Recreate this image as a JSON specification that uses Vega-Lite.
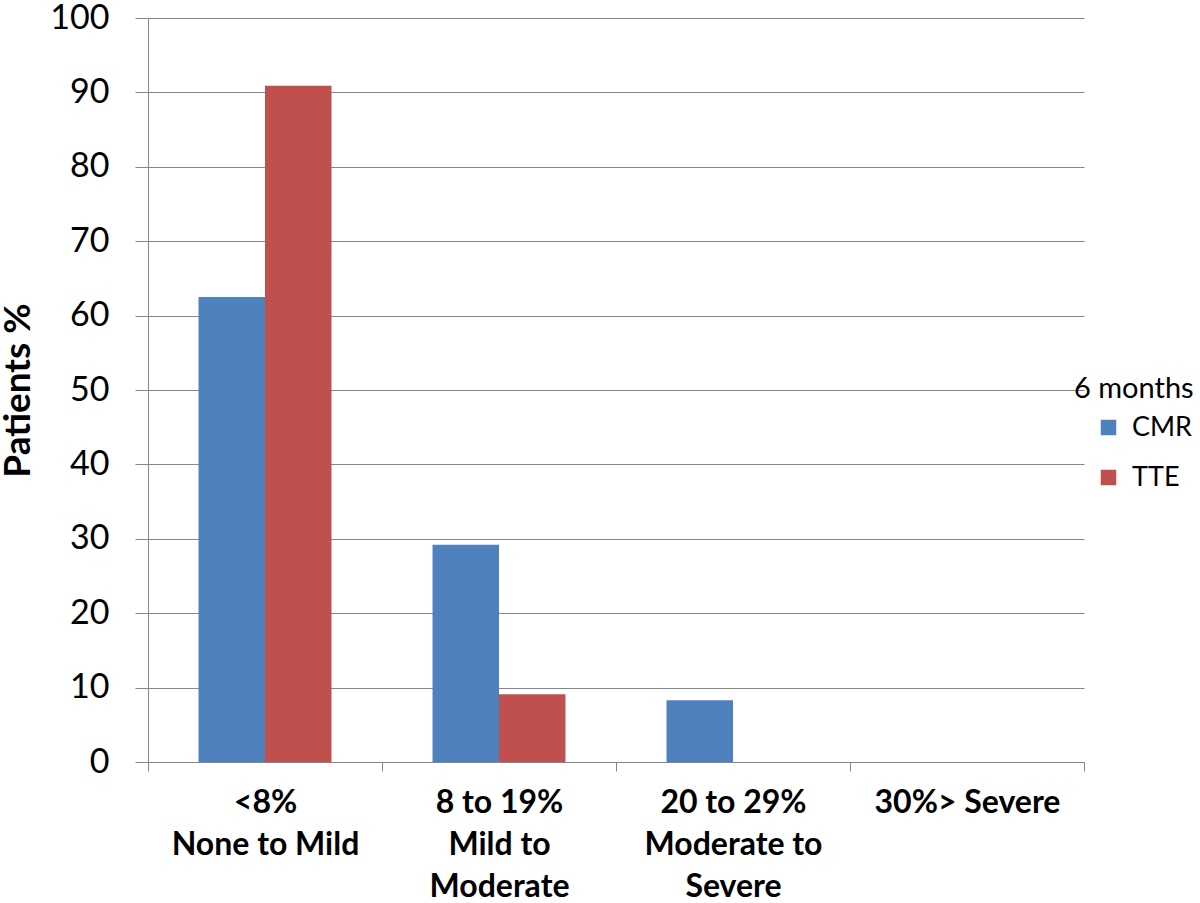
{
  "$schema": "https://vega.github.io/schema/vega-lite/v6.json",
  "width": 936,
  "height": 744,
  "autosize": {"type": "none"},
  "padding": {"left": 148, "top": 18, "right": 116, "bottom": 141},
  "background": "white",
  "data": {
    "values": [
      {"category": "<8%|None to Mild", "series": "CMR", "value": 62.5},
      {"category": "<8%|None to Mild", "series": "TTE", "value": 90.9},
      {"category": "8 to 19%|Mild to|Moderate", "series": "CMR", "value": 29.2},
      {"category": "8 to 19%|Mild to|Moderate", "series": "TTE", "value": 9.1},
      {"category": "20 to 29%|Moderate to|Severe", "series": "CMR", "value": 8.3},
      {"category": "20 to 29%|Moderate to|Severe", "series": "TTE", "value": 0},
      {"category": "30%> Severe", "series": "CMR", "value": 0},
      {"category": "30%> Severe", "series": "TTE", "value": 0}
    ]
  },
  "mark": {"type": "bar"},
  "encoding": {
    "x": {
      "field": "category",
      "type": "nominal",
      "sort": null,
      "scale": {"paddingInner": 0, "paddingOuter": 0},
      "axis": {
        "title": null,
        "labelAngle": 0,
        "labelExpr": "split(datum.label, '|')",
        "labelFont": "Lato",
        "labelFontWeight": "bold",
        "labelFontSize": 32,
        "labelColor": "black",
        "labelLineHeight": 42,
        "labelPadding": 16,
        "labelLimit": 300,
        "tickBand": "extent",
        "tickSize": 9,
        "tickColor": "#868686",
        "domainColor": "#868686",
        "grid": false
      }
    },
    "xOffset": {
      "field": "series",
      "type": "nominal",
      "scale": {"paddingInner": 0, "paddingOuter": 0.76}
    },
    "y": {
      "field": "value",
      "type": "quantitative",
      "scale": {"domain": [0, 100], "nice": false},
      "axis": {
        "title": "Patients %",
        "titleFont": "Lato",
        "titleFontWeight": "bold",
        "titleFontSize": 37,
        "titleColor": "black",
        "titlePadding": 12,
        "values": [0, 10, 20, 30, 40, 50, 60, 70, 80, 90, 100],
        "labelFont": "Lato",
        "labelFontSize": 34,
        "labelColor": "black",
        "labelPadding": 26,
        "tickSize": 13,
        "tickColor": "#868686",
        "domainColor": "#868686",
        "grid": true,
        "gridColor": "#868686",
        "gridOpacity": 1
      }
    },
    "color": {
      "field": "series",
      "type": "nominal",
      "scale": {"domain": ["CMR", "TTE"], "range": ["#4F81BD", "#C0504D"]},
      "legend": {
        "title": "6 months",
        "orient": "none",
        "legendX": 926,
        "legendY": 357,
        "titleFont": "Lato",
        "titleFontWeight": "normal",
        "titleFontSize": 29,
        "titleColor": "black",
        "titlePadding": 10,
        "labelFont": "Lato",
        "labelFontSize": 27,
        "labelColor": "black",
        "symbolType": "square",
        "symbolSize": 240,
        "symbolStrokeWidth": 0,
        "symbolOffset": 21,
        "labelOffset": 10,
        "rowPadding": 22
      }
    }
  },
  "config": {
    "view": {"stroke": null},
    "axis": {"domainWidth": 1, "tickWidth": 1, "gridWidth": 1}
  }
}
